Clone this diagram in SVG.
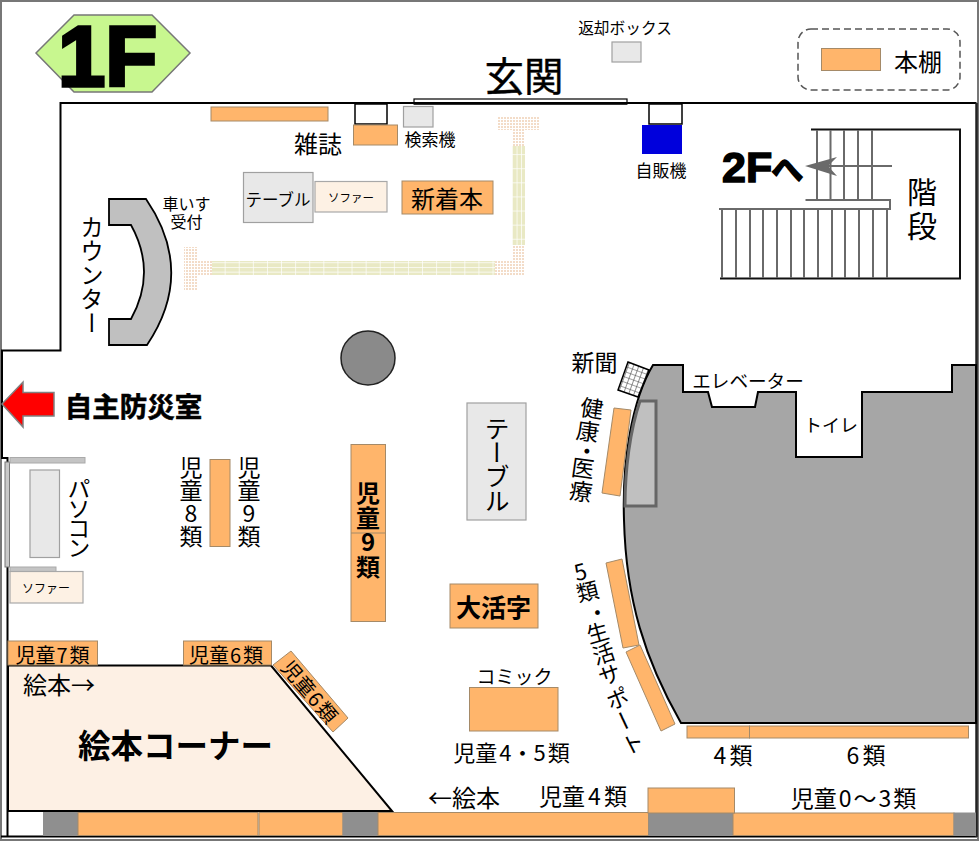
<svg xmlns="http://www.w3.org/2000/svg" width="979" height="842" viewBox="0 0 979 842" xml:lang="ja">
<style>
text{font-family:"Noto Sans CJK JP","Noto Sans",sans-serif;fill:#000;text-anchor:middle;dominant-baseline:central}
.v{writing-mode:vertical-rl;text-orientation:upright;text-anchor:start;dominant-baseline:auto}
.b{font-weight:700}
.shelf{fill:#ffb56b;stroke:#a58a68;stroke-width:1}
.gray{fill:#e8e8e8;stroke:#a0a0a0;stroke-width:1.2}
.sofa{fill:#fdf1e4;stroke:#a8a8a8;stroke-width:1.2}
.pillar{fill:#8f8f8f;stroke:#8f8f8f}
.wall{fill:none;stroke:#000;stroke-width:2}
.st{stroke:#6a6a6a;stroke-width:2;fill:none}
</style>
<defs>
<pattern id="stripeH" width="14.1" height="4.7" patternUnits="userSpaceOnUse"><rect width="14.1" height="4.7" fill="#e9e9c4"/><rect y="4" width="14.1" height=".7" fill="#fff"/><rect x="13.4" width=".7" height="4.7" fill="#fff"/></pattern>
<pattern id="stripeV" width="4.5" height="14.1" patternUnits="userSpaceOnUse"><rect width="4.5" height="14.1" fill="#e9e9c4"/><rect x="3.8" width=".7" height="14.1" fill="#fff"/><rect y="13.4" width="4.5" height=".7" fill="#fff"/></pattern>
<pattern id="dots" width="3" height="3" patternUnits="userSpaceOnUse"><rect width="2" height="2" fill="#f3dcc8"/></pattern>
<pattern id="hatch" width="5" height="5" patternUnits="userSpaceOnUse" patternTransform="rotate(20)"><rect width="5" height="5" fill="#fff"/><path d="M0 0H5M0 0V5" stroke="#444" stroke-width="1.2"/></pattern>
</defs>
<rect x="0" y="0" width="979" height="842" fill="#fff"/>
<rect x="1" y="1" width="977" height="839" fill="none" stroke="#777" stroke-width="2"/>

<g id="paving">
<rect x="184" y="247" width="13" height="43" fill="url(#dots)"/>
<rect x="197" y="261" width="15" height="14" fill="url(#dots)"/>
<rect x="212" y="261" width="283" height="14" fill="url(#stripeH)"/>
<rect x="495" y="261" width="30" height="14" fill="url(#dots)"/>
<rect x="512" y="246" width="13" height="15" fill="url(#dots)"/>
<rect x="512" y="146" width="13" height="99" fill="url(#stripeV)"/>
<rect x="512" y="130" width="13" height="16" fill="url(#dots)"/>
<rect x="497" y="117" width="43" height="13" fill="url(#dots)"/>
</g>

<g id="walls">
<path class="wall" d="M976.5 103H60.5V350.500H2V458"/>
<path d="M1 458H7.500V837M1 836.500H977" class="wall"/>
<path d="M976.500 103V837" stroke="#222" stroke-width="2.500" fill="none"/>
</g>

<g id="floor-label"><polygon points="36,53 74,15 152,15 190,53 152,92 74,92" fill="#c8f78f" stroke="#777" stroke-width="1.500"/>
<text x="107.500" y="56" class="b" style="font-family:'Liberation Sans',sans-serif;font-size:85px;stroke:#000;stroke-width:3.500px">1F</text></g>

<g id="entrance"><text x="524" y="73" font-size="39.500" style="stroke:#000;stroke-width:.4px">玄関</text>
<rect x="414" y="99" width="213" height="5" fill="#fff" stroke="#000" stroke-width="1.200"/><rect x="414" y="102" width="213" height="2.500" fill="#000"/></g>

<g id="return-box"><text x="625" y="27" font-size="15.700">返却ボックス</text><rect class="gray" x="612" y="42" width="29" height="20"/></g>

<g id="legend"><rect x="798" y="29" width="162" height="61" rx="13" fill="none" stroke="#555" stroke-width="1.500" stroke-dasharray="7 4"/>
<rect class="shelf" x="821.500" y="48.500" width="59" height="22"/><text x="918" y="60" font-size="24">本棚</text></g>

<g id="magazine"><rect class="shelf" x="211" y="107" width="117" height="14"/>
<rect x="355" y="104" width="32" height="20" fill="#fff" stroke="#000" stroke-width="1.500"/>
<rect class="shelf" x="353.500" y="125" width="44" height="20"/><text x="318" y="142" font-size="24">雑誌</text></g>

<g id="search"><rect class="gray" x="403.500" y="106.500" width="29.500" height="20.500"/><text x="430" y="138" font-size="17">検索機</text></g>

<g id="table-1"><rect class="gray" x="243.500" y="172.500" width="69.500" height="50"/><text x="278" y="199" font-size="16.500">テーブル</text></g>
<g id="sofa-1"><rect class="sofa" x="315" y="181.500" width="72" height="30.500"/><text x="351" y="197" font-size="11.500">ソファー</text></g>
<g id="new-books"><rect class="shelf" x="402" y="181" width="91" height="33"/><text x="447" y="197" font-size="24">新着本</text></g>

<g id="vending"><rect x="649" y="104" width="33" height="20" fill="#fff" stroke="#000" stroke-width="1.500"/><rect x="642" y="125" width="40" height="29" fill="#0000dc"/><text x="661" y="169" font-size="17">自販機</text></g>

<g id="stairs">
<path d="M811 129.500H960V278.500H720" fill="none" stroke="#111" stroke-width="2"/>
<path class="st" d="M817 130V200M830.500 130V200M844 130V200M858 130V200M872 130V200"/>
<path class="st" d="M722 209V278M736 209V278M750 209V278M763 209V278M777 209V278M791 209V278M804 209V278M818 209V278M832 209V278M845 209V278M859 209V278M873 209V278M887 209V278"/>
<path d="M805.500 200H890V209H719" stroke="#6a6a6a" stroke-width="2" fill="#fff"/>
<path d="M828 166H892" stroke="#6a6a6a" stroke-width="2"/>
<polygon points="805,166 837,157 828,166 837,176" fill="#6a6a6a"/>
<text class="v" x="922" y="177" font-size="30" style="letter-spacing:4px">階段</text>
<text x="722" y="167" class="b" style="text-anchor:start;font-family:'Liberation Sans','Noto Sans CJK JP',sans-serif;font-size:43px;stroke:#000;stroke-width:1.500px">2F<tspan style="font-family:'Noto Sans CJK JP';font-size:32px" dx="-1">へ</tspan></text>
</g>

<g id="counter"><path d="M109 199H146Q196 272 147 345H109V319H131Q157 272 131 225H109Z" fill="#c0c0c0" stroke="#000" stroke-width="1.800"/>
<text class="v" x="92" y="215" font-size="23.500" style="letter-spacing:.5px">カウンター</text>
<text x="186.500" y="203" font-size="16">車いす<tspan x="186.500" dy="18">受付</tspan></text></g>

<g id="pillar"><circle cx="368" cy="358" r="27" fill="#8a8a8a" stroke="#222" stroke-width="1.500"/></g>

<g id="evac"><polygon points="2,404 23,382 23,392.500 54,392.500 54,416 23,416 23,427" fill="#f00" stroke="#808080" stroke-width="1.500"/>
<text x="133.500" y="405" font-size="27.500" class="b" style="stroke:#000;stroke-width:.6px">自主防災室</text></g>

<g id="pc"><rect x="5" y="462" width="4.500" height="105" fill="#c8c8c8" stroke="#777"/>
<rect x="10" y="457.500" width="75" height="5.500" fill="#c4c4c4" stroke="#aaa"/>
<rect x="10" y="567" width="46" height="4.500" fill="#c4c4c4" stroke="#aaa"/>
<rect class="gray" x="30" y="470" width="29.500" height="87.500"/>
<text class="v" x="79" y="477" font-size="23" style="letter-spacing:-3.300px">パソコン</text></g>
<g id="sofa-2"><rect class="sofa" x="10" y="571.500" width="73" height="31.500"/><text x="46" y="587" font-size="12">ソファー</text></g>

<g id="shelf-8-9"><rect class="shelf" x="210" y="459.500" width="20" height="87"/>
<text class="v" x="191" y="456" font-size="23">児童8類</text>
<text class="v" x="249" y="456" font-size="23">児童9類</text></g>

<g id="shelf-9"><rect class="shelf" x="351" y="444.500" width="34.500" height="177"/><path d="M351 533H385.500" stroke="#a58a68"/>
<text class="v b" x="368" y="481" font-size="24" style="letter-spacing:.6px">児童9類</text></g>

<g id="table-2"><rect class="gray" x="467" y="403" width="59" height="117"/><text class="v" x="497" y="416" font-size="25" style="letter-spacing:-1px">テーブル</text></g>

<g id="large-print"><rect class="shelf" x="450" y="584" width="88" height="44"/><text x="493.500" y="606" font-size="25" class="b">大活字</text></g>

<g id="comic"><rect class="shelf" x="469.500" y="687.500" width="88.500" height="43.500"/><text x="514.500" y="675" font-size="19">コミック</text>
<text x="511.500" y="751" font-size="22">児童<tspan dx="2">4</tspan>・<tspan>5</tspan><tspan dx="2">類</tspan></text></g>

<g id="core"><path d="M653 365H683V392H708L712 407H755L758 392H796V457H862V392H952V365H976V723H681C645 660 626 600 624 520C622 460 632 400 653 365Z" fill="#a6a6a6" stroke="#000" stroke-width="2"/>
<path d="M640 401H656V506H625C625 470 630 430 640 401Z" fill="#c0c0c0" stroke="#666" stroke-width="3"/>
<text x="748" y="379" font-size="18.600">エレベーター</text><text x="831" y="424" font-size="18">トイレ</text></g>

<g id="newspaper"><text x="594.500" y="361" font-size="23">新聞</text><polygon points="628,362 649,370 638,397 618,390" fill="url(#hatch)" stroke="#000" stroke-width="1.500"/></g>

<g id="health"><polygon class="shelf" points="614,408 631,410 620,496 602,493"/>
<text transform="translate(592 407) rotate(8)" font-size="23">健</text>
<text transform="translate(588 430) rotate(8)" font-size="23">康</text>
<text transform="translate(587 450) rotate(8)" font-size="23">・</text>
<text transform="translate(583 467) rotate(8)" font-size="23">医</text>
<text transform="translate(581 490) rotate(8)" font-size="23">療</text></g>

<g id="class-5"><polygon class="shelf" points="606,563 622,559 639,645 623,648"/><polygon class="shelf" points="626,652 640,645 675,724 661,731"/>
<text transform="translate(580 570) rotate(-14)" font-size="22">5</text>
<text transform="translate(587 590) rotate(-14)" font-size="22">類</text>
<text transform="translate(597 611) rotate(-15)" font-size="22">・</text>
<text transform="translate(597 631) rotate(-16)" font-size="22">生</text>
<text transform="translate(603 652) rotate(-18)" font-size="22">活</text>
<text transform="translate(609 673) rotate(-20)" font-size="22">サ</text>
<text transform="translate(617 697) rotate(-22)" font-size="22">ポ</text>
<text transform="translate(625 720) rotate(65)" font-size="22">ー</text>
<text transform="translate(632 742) rotate(-27)" font-size="22">ト</text></g>

<g id="ehon"><polygon points="8,665.500 271,665.500 392,811 8,811" fill="#fdf0e4" stroke="#000" stroke-width="2"/>
<text x="59" y="683" font-size="24">絵本→</text><text x="175.500" y="743" font-size="32.500" class="b">絵本コーナー</text></g>

<g id="kids-7"><rect class="shelf" x="8" y="641" width="89.500" height="24"/><text x="52.500" y="654" font-size="20">児童<tspan dx="1">7</tspan><tspan dx="2">類</tspan></text></g>
<g id="kids-6"><rect class="shelf" x="183.500" y="641" width="88" height="24"/><text x="226" y="654" font-size="20">児童<tspan dx="1">6</tspan><tspan dx="2">類</tspan></text></g>
<g id="kids-6b"><polygon class="shelf" points="291,651 348,718 333,732 273,665"/><text transform="translate(310.500 691) rotate(49.500)" font-size="20">児童<tspan dx="1">6</tspan><tspan dx="2">類</tspan></text></g>

<g id="shelves-4-6"><rect class="shelf" x="687" y="726" width="62.500" height="12"/><rect class="shelf" x="749.500" y="726" width="219" height="12"/>
<text x="733" y="754" font-size="23">4<tspan dx="3">類</tspan></text><text x="866" y="754" font-size="23">6<tspan dx="3">類</tspan></text></g>

<g id="bottom-row">
<rect class="pillar" x="43.500" y="812.500" width="34.500" height="23"/>
<rect class="shelf" x="78" y="812.500" width="180" height="23"/>
<rect class="shelf" x="259" y="812.500" width="84" height="23"/>
<rect class="pillar" x="343" y="812.500" width="35" height="23"/>
<rect class="shelf" x="378" y="812.500" width="270.500" height="23"/>
<rect class="pillar" x="649" y="813" width="84" height="22.500"/>
<rect class="shelf" x="733" y="813" width="221" height="22.500"/>
<rect class="pillar" x="954" y="813" width="21.500" height="22.500"/>
<rect class="shelf" x="648" y="788" width="86.500" height="25"/>
<text x="464" y="796" font-size="24">←絵本</text>
<text x="583" y="795" font-size="23">児童<tspan dx="3">4</tspan><tspan dx="3">類</tspan></text>
<text x="853.500" y="797" font-size="23">児童<tspan dx="2">0</tspan><tspan dx="2">〜</tspan><tspan dx="2">3</tspan><tspan dx="2">類</tspan></text>
</g>
</svg>
